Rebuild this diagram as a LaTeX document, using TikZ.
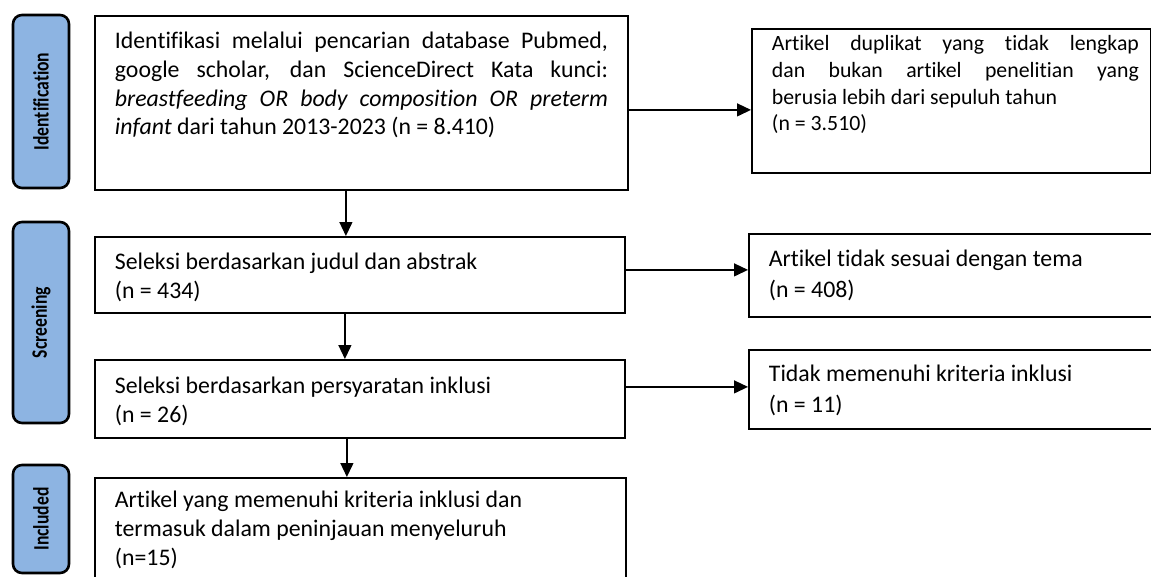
\documentclass[tikz,border=0pt]{standalone}
\usepackage{fontspec}
\setmainfont{Carlito}[Ligatures=NoCommon]
\usetikzlibrary{arrows.meta}
\definecolor{phaseblue}{RGB}{141,180,226}
\newcommand{\bodyfont}{\fontsize{23.8}{28.8}\selectfont}
\newcommand{\widefont}{\fontsize{23.8}{31}\selectfont}
\newcommand{\notefont}{\fontsize{21.8}{26.6}\selectfont}
\newcommand{\phasefont}{\fontsize{22}{26}\selectfont\bfseries}
\newcommand{\steptext}[4]{\parbox[t][#2][t]{#1}{\rule{0pt}{#3}#4}}

\begin{document}
\begin{tikzpicture}[x=1pt,y=-1pt,
  phase/.style={draw,line width=2.6pt,rounded corners=9pt,fill=phaseblue,minimum width=56pt,inner sep=0pt,font=\phasefont},
  stepbox/.style={draw,line width=1.8pt,anchor=north west,inner xsep=20pt,inner ysep=0pt,font=\bodyfont},
  flow/.style={line width=1.3pt,-{Triangle[length=14pt,width=13pt]}}]
\clip (0,0) rectangle (1151,576);
\foreach \name/\y/\h/\txt in {id/101.5/173/Identification,scr/322.5/201/Screening,inc/519/108/Included}
  \node[phase,minimum height=\h pt] (\name) at (41,\y) {\rotatebox{90}{\scalebox{0.8}[1]{\txt}}};

\node[stepbox] (b1) at (94,15) {\steptext{493pt}{174pt}{32.5pt}{Identifikasi melalui pencarian database Pubmed,\linebreak google scholar, dan ScienceDirect Kata kunci:\linebreak \textit{breastfeeding OR body composition OR preterm}\linebreak \textit{infant} dari tahun 2013-2023 (n = 8.410)}};
\node[stepbox,font=\notefont] (r1) at (751,28) {\steptext{367pt}{144pt}{22pt}{Artikel duplikat yang tidak lengkap\linebreak dan bukan artikel penelitian yang\linebreak berusia lebih dari sepuluh tahun\\(n = 3.510)}\hspace*{-8pt}};
\node[stepbox] (b2) at (94,236) {\steptext{490pt}{76pt}{32.5pt}{Seleksi berdasarkan judul dan abstrak\\(n = 434)}};
\node[stepbox,font=\widefont] (r2) at (748,233) {\steptext{370pt}{83pt}{32.5pt}{Artikel tidak sesuai dengan tema\\(n = 408)}};
\node[stepbox] (b3) at (94,359) {\steptext{490pt}{78pt}{33.5pt}{Seleksi berdasarkan persyaratan inklusi\\(n = 26)}};
\node[stepbox,font=\widefont] (r3) at (748,349) {\steptext{370pt}{79pt}{31.5pt}{Tidak memenuhi kriteria inklusi\\(n = 11)}};
\node[stepbox] (b4) at (94,477) {\steptext{491pt}{110pt}{29.5pt}{Artikel yang memenuhi kriteria inklusi dan\\termasuk dalam peninjauan menyeluruh\\(n=15)}};

\draw[flow] ([yshift=-7pt]b1.east) -- ([yshift=-7pt]b1.east -| r1.west);
\draw[flow] ([yshift=5pt]b2.east) -- ([yshift=5pt]b2.east -| r2.west);
\draw[flow] ([yshift=12pt]b3.east) -- ([yshift=12pt]b3.east -| r3.west);
\draw[flow] ([xshift=-15.5pt]b1.south) -- ([xshift=-15.5pt]b1.south |- b2.north);
\draw[flow] ([xshift=-15pt]b2.south) -- ([xshift=-15pt]b2.south |- b3.north);
\draw[flow] ([xshift=-13pt]b3.south) -- ([xshift=-13pt]b3.south |- b4.north);
\end{tikzpicture}
\end{document}
